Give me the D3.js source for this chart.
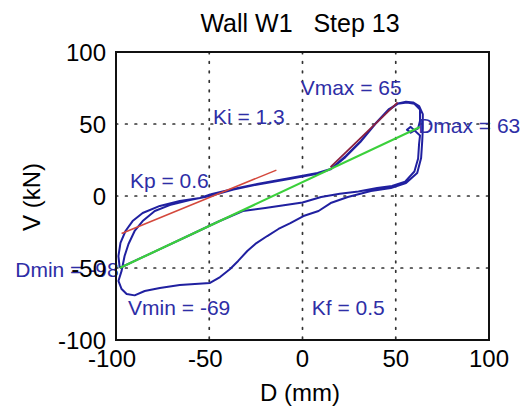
<!DOCTYPE html>
<html>
<head>
<meta charset="utf-8">
<script src="https://cdn.jsdelivr.net/npm/d3@7"></script>
<style>
  body { margin: 0; background: #fff; }
  text { font-family: "Liberation Sans", Arial, sans-serif; }
</style>
</head>
<body>
<svg id="chart" width="527" height="414"></svg>
<script>
// tick values
const xTicks = [-100, -50, 0, 50, 100];
const yTicks = [-100, -50, 0, 50, 100];

// hysteresis record, D (mm) vs V (kN), split by half cycle
const load1 = [
  [-98, -50], [-98.7, -41.7], [-97.6, -32.6], [-94.9, -24.3], [-91.1, -17.4],
  [-85.7, -11.8], [-76.5, -6.9], [-65.8, -3.5], [-55, -1.4], [-48.5, 1.4],
  [-37.2, 4.9], [-24.3, 8.3], [-6.5, 12.5], [8.1, 16], [15.1, 18.8],
  [23.2, 27.8], [31.3, 38.2], [39.4, 50.7], [46.4, 60.4], [51.2, 64.2],
  [55.5, 65.5], [59.3, 65], [62.5, 62.5], [64.5, 56.9], [64.5, 46.5]
];
const unload1 = [
  [64.2, 38.2], [63.6, 26.4], [61.5, 16], [55.5, 9], [47.4, 5.6],
  [36.7, 3.5], [24.3, -0.7], [15.1, -4.9], [8.6, -10.4], [0.5, -13.9],
  [-6.5, -18.8], [-12.9, -22.9], [-18.9, -27.8], [-25.3, -33.3], [-29.6, -38.2],
  [-34.5, -45.1], [-38.8, -50.7], [-44.2, -56.3], [-49.6, -60.4], [-57.7, -61.1],
  [-65.8, -61.8], [-76.5, -63.9], [-84.6, -66], [-90, -69], [-94.3, -68],
  [-97, -64.6], [-98.7, -59]
];
const load2 = [
  [-97, -52], [-95.4, -41.7], [-93.3, -33.3], [-90, -24.3], [-85.7, -17.4],
  [-79.2, -10.4], [-71.2, -6.3], [-60.4, -2.8], [-49.6, 0], [-37, 4.5],
  [-24, 8], [-6.5, 12], [8, 15.5], [15, 18.5], [23, 27],
  [31, 37.5], [39, 50], [46, 59.5], [51, 64], [56, 65],
  [60, 64], [63, 60], [63, 52], [62, 47], [58, 44],
  [56, 46], [58, 48], [63, 42]
];
const unload2 = [
  [62.5, 36], [62, 26], [60, 17], [55, 10], [48, 7],
  [40, 5.5], [30, 3.2], [20, 1.5], [10, -0.7], [0, -4.5],
  [-10, -6.5], [-20, -8.3], [-32, -10.4], [-45, -17.7], [-60, -26.9],
  [-75, -36], [-88, -43.9], [-98, -50]
];

// stiffness lines
const kiLine = [[15, 20], [51, 65]];
const kpLine = [[-97, -26], [-14, 18]];
const kfLine = [[-98, -50], [63, 48]];

// annotations
const labels = [
  { text: "Vmax = 65", d: -1, v: 70 },
  { text: "Ki = 1.3", d: -48, v: 50 },
  { text: "Kp = 0.6", d: -92.5, v: 5.4 },
  { text: "Dmin = -98", d: -154, v: -56 },
  { text: "Dmax = 63", d: 62, v: 44 },
  { text: "Vmin = -69", d: -93.5, v: -82.6 },
  { text: "Kf = 0.5", d: 5, v: -82.6 }
];

const svg = d3.select("#chart");
const padL = 116, padR = 489, padT = 52, padB = 340;

const x = d3.scaleLinear().domain([-100, 100]).range([padL, padR]);
const y = d3.scaleLinear().domain([-100, 100]).range([padB, padT]);

// dotted grid
const grid = svg.append("g");
grid.selectAll("line.gx")
  .data(xTicks.slice(1, -1))
  .enter().append("line")
  .attr("x1", d => x(d)).attr("x2", d => x(d))
  .attr("y1", padT).attr("y2", padB)
  .attr("stroke", "#333").attr("stroke-width", 1.7)
  .attr("stroke-dasharray", "1.7,7.8")
  .attr("stroke-linecap", "round");
grid.selectAll("line.gy")
  .data(yTicks.slice(1, -1))
  .enter().append("line")
  .attr("y1", d => y(d)).attr("y2", d => y(d))
  .attr("x1", padL).attr("x2", padR)
  .attr("stroke", "#333").attr("stroke-width", 1.7)
  .attr("stroke-dasharray", "1.7,7.8")
  .attr("stroke-linecap", "round");

const line = d3.line().x(d => x(d[0])).y(d => y(d[1]));

// hysteresis curve
const curve = load1.concat(unload1, load2, unload2);
svg.append("path")
  .datum(curve)
  .attr("d", line)
  .attr("fill", "none")
  .attr("stroke", "#2020a0")
  .attr("stroke-width", 2)
  .attr("stroke-linejoin", "round");

svg.append("path").datum(kfLine).attr("d", line)
  .attr("stroke", "#3bd03b").attr("stroke-width", 2.2).attr("fill", "none");
svg.append("path").datum(kpLine).attr("d", line)
  .attr("stroke", "#d4483c").attr("stroke-width", 1.5).attr("fill", "none");
svg.append("path").datum(kiLine).attr("d", line)
  .attr("stroke", "#8a2040").attr("stroke-width", 1.8).attr("fill", "none");

// annotations
svg.selectAll("text.note")
  .data(labels)
  .enter().append("text")
  .attr("class", "note")
  .attr("x", d => x(d.d))
  .attr("y", d => y(d.v))
  .attr("font-size", 21)
  .attr("fill", "#2e2ea6")
  .text(d => d.text);

// box
svg.append("rect")
  .attr("x", padL).attr("y", padT)
  .attr("width", padR - padL).attr("height", padB - padT)
  .attr("fill", "none").attr("stroke", "#111").attr("stroke-width", 2);

// tick labels
svg.selectAll("text.xt")
  .data(xTicks)
  .enter().append("text")
  .attr("x", d => x(d) - (d < 0 ? 4 : 0))
  .attr("y", 367)
  .attr("text-anchor", "middle")
  .attr("font-size", 24)
  .text(d => d);
svg.selectAll("text.yt")
  .data(yTicks)
  .enter().append("text")
  .attr("x", padL - 10)
  .attr("y", d => y(d) + 9)
  .attr("text-anchor", "end")
  .attr("font-size", 24)
  .text(d => d);

// titles
svg.append("text")
  .attr("x", 300).attr("y", 32)
  .attr("text-anchor", "middle")
  .attr("font-size", 25)
  .style("white-space", "pre")
  .text("Wall W1   Step 13");
svg.append("text")
  .attr("x", 300).attr("y", 401)
  .attr("text-anchor", "middle")
  .attr("font-size", 24)
  .text("D (mm)");
svg.append("text")
  .attr("transform", "translate(40,197) rotate(-90)")
  .attr("text-anchor", "middle")
  .attr("font-size", 24)
  .text("V (kN)");
</script>
</body>
</html>
